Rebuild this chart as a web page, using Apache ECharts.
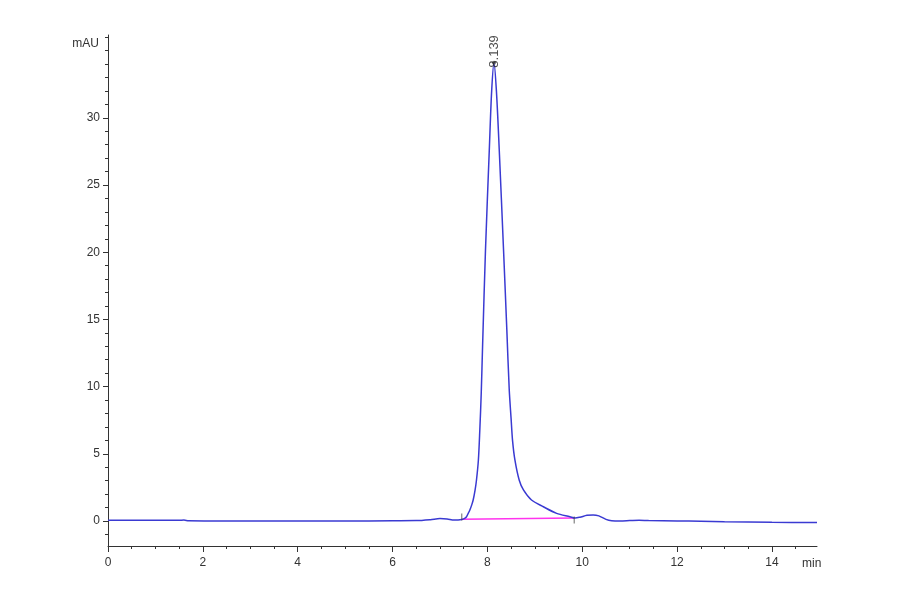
<!DOCTYPE html>
<html>
<head>
<meta charset="utf-8">
<title>Chromatogram</title>
<script src="https://cdn.jsdelivr.net/npm/echarts@6.0.0/dist/echarts.min.js"></script>
<style>
html,body{margin:0;padding:0;background:#fff}
#main{width:900px;height:594px}
</style>
</head>
<body>
<div id="main"></div>
<script>
// retention time (min) and detector signal (mAU)
var timeMin = [0, 0.5, 1.0, 1.5, 1.6, 1.7, 2.5, 3.0, 4.0, 5.0, 6.0, 6.5, 6.8, 7.0, 7.15, 7.3, 7.46, 7.52, 7.56, 7.6,
    7.63, 7.67, 7.7, 7.74, 7.77, 7.81, 7.84, 7.87, 7.9, 7.96, 8.04, 8.09, 8.139, 8.19, 8.25, 8.34, 8.41, 8.46, 8.5, 8.53,
    8.58, 8.67, 8.76, 8.93, 9.18, 9.46, 9.74, 9.85, 9.95, 10.1, 10.23, 10.35, 10.5, 10.62, 10.8, 11.0, 11.2, 11.4, 12.0, 12.5,
    13.0, 14.0, 14.95];
var signal = [0.05, 0.06, 0.06, 0.05, 0.07, 0.02, 0.0, 0.0, 0.0, 0.0, 0.02, 0.03, 0.1, 0.18, 0.15, 0.08, 0.12, 0.2, 0.32, 0.6,
    0.82, 1.2, 1.56, 2.3, 3.05, 4.54, 6.77, 9.5, 13.2, 20.2, 27.6, 32.0, 34.1, 32.0, 27.6, 20.2, 14.2, 9.8, 7.6, 6.0,
    4.54, 3.05, 2.31, 1.56, 1.06, 0.57, 0.32, 0.22, 0.28, 0.42, 0.45, 0.38, 0.12, 0.02, 0.0, 0.03, 0.06, 0.03, 0.0, -0.02,
    -0.06, -0.1, -0.12];

// integration baseline and its start/end markers
var baseTime = [7.46, 9.83];
var baseValue = [0.13, 0.22];
var baseTickValue = [0.3, 0.08];

// peak apex annotation
var peakTime = [8.139];
var peakValue = [34.1];
var peakLabel = ['8.139'];

// axis ticks
var xMajorTicks = [0, 2, 4, 6, 8, 10, 12, 14];
var xMinorTicks = [0.5, 1, 1.5, 2.5, 3, 3.5, 4.5, 5, 5.5, 6.5, 7, 7.5, 8.5, 9, 9.5, 10.5, 11, 11.5, 12.5, 13, 13.5, 14.5];
var yMajorTicks = [0, 5, 10, 15, 20, 25, 30];
var yMinorTicks = [-1, 1, 2, 3, 4, 6, 7, 8, 9, 11, 12, 13, 14, 16, 17, 18, 19, 21, 22, 23, 24, 26, 27, 28, 29, 31, 32, 33, 34, 35, 36];

var xMin = 0, xMax = 14.95, yMin = -1.86, yMax = 36.16;

function zip(a, b) {
    var out = [];
    for (var i = 0; i < a.length; i++) out.push([a[i], b[i]]);
    return out;
}

var chartDom = document.getElementById('main');
var myChart = echarts.init(chartDom);
var axisColor = '#333';
var font = 'Liberation Sans';

var option = {
    backgroundColor: '#fff',
    animation: false,
    textStyle: { fontFamily: font },
    grid: { left: 108, right: 83, top: 35, bottom: 48 },
    xAxis: [
        {
            type: 'value', min: xMin, max: xMax,
            name: 'min', nameLocation: 'end', nameGap: -15,
            nameTextStyle: { color: axisColor, fontSize: 12, fontFamily: font, verticalAlign: 'top', padding: [12, 0, 0, 0] },
            axisLine: { show: true, onZero: false, lineStyle: { color: axisColor, width: 1 } },
            axisTick: { show: true, length: 6, customValues: xMajorTicks, lineStyle: { color: axisColor } },
            axisLabel: { show: true, customValues: xMajorTicks, margin: 11, color: axisColor, fontSize: 12, fontFamily: font },
            splitLine: { show: false }
        },
        {
            type: 'value', min: xMin, max: xMax, position: 'bottom',
            axisLine: { show: false, onZero: false },
            axisTick: { show: true, length: 3, customValues: xMinorTicks, lineStyle: { color: axisColor } },
            axisLabel: { show: false },
            splitLine: { show: false }
        }
    ],
    yAxis: [
        {
            type: 'value', min: yMin, max: yMax, position: 'left',
            name: 'mAU', nameLocation: 'end', nameGap: -9,
            nameTextStyle: { color: axisColor, fontSize: 12, fontFamily: font, align: 'right', verticalAlign: 'middle', padding: [0, 9, 0, 0] },
            axisLine: { show: true, onZero: false, lineStyle: { color: axisColor, width: 1 } },
            axisTick: { show: true, length: 5, customValues: yMajorTicks, lineStyle: { color: axisColor } },
            axisLabel: { show: true, customValues: yMajorTicks, margin: 8, color: axisColor, fontSize: 12, fontFamily: font },
            splitLine: { show: false }
        },
        {
            type: 'value', min: yMin, max: yMax, position: 'left',
            axisLine: { show: false, onZero: false },
            axisTick: { show: true, length: 3, customValues: yMinorTicks, lineStyle: { color: axisColor } },
            axisLabel: { show: false },
            splitLine: { show: false }
        }
    ],
    series: [
        {
            name: 'baseline',
            type: 'line',
            data: zip(baseTime, baseValue),
            showSymbol: false,
            lineStyle: { color: '#ff33ee', width: 1.5 },
            z: 2
        },
        {
            name: 'signal',
            type: 'line',
            data: zip(timeMin, signal),
            showSymbol: false,
            smooth: 0.3,
            lineStyle: { color: '#3a3ad2', width: 1.5 },
            z: 3
        },
        {
            name: 'baseline marks',
            type: 'scatter',
            data: zip(baseTime, baseTickValue),
            symbol: 'rect',
            symbolSize: [1, 7],
            itemStyle: { color: '#444' },
            z: 4
        },
        {
            name: 'peak',
            type: 'scatter',
            data: zip(peakTime, peakValue),
            symbol: 'circle',
            symbolSize: 4,
            itemStyle: { color: '#444' },
            label: {
                show: true,
                position: 'top',
                distance: -7,
                rotate: 90,
                align: 'left',
                verticalAlign: 'middle',
                color: '#222',
                fontSize: 13,
                fontFamily: font,
                formatter: function (p) { return peakLabel[p.dataIndex]; }
            },
            z: 5
        }
    ]
};

option && myChart.setOption(option);
</script>
</body>
</html>
